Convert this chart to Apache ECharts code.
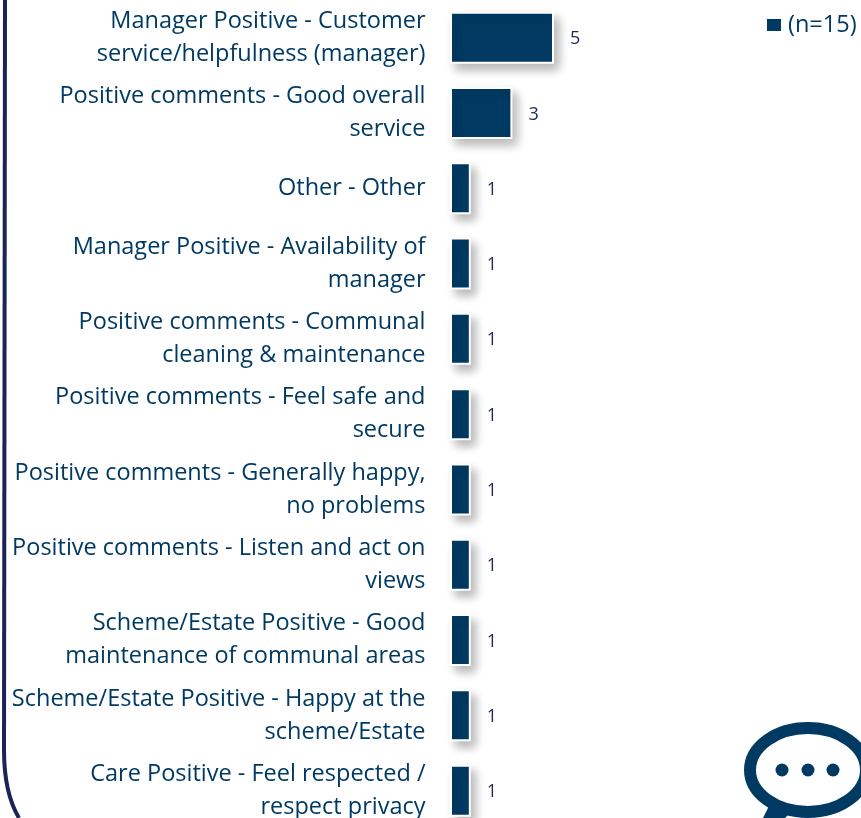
<!DOCTYPE html>
<html>
<head>
<meta charset="utf-8">
<style>
  html, body { margin: 0; padding: 0; background: #fff; height: 818px; overflow: hidden; }
  #chart { width: 861px; height: 840px; }
</style>
</head>
<body>
<div id="chart"></div>
<script src="https://cdn.jsdelivr.net/npm/echarts@6/dist/echarts.min.js"></script>
<script>
const categories = [
  'Manager Positive - Customer\nservice/helpfulness (manager)',
  'Positive comments - Good overall\nservice',
  'Other - Other',
  'Manager Positive - Availability of\nmanager',
  'Positive comments - Communal\ncleaning & maintenance',
  'Positive comments - Feel safe and\nsecure',
  'Positive comments - Generally happy,\nno problems',
  'Positive comments - Listen and act on\nviews',
  'Scheme/Estate Positive - Good\nmaintenance of communal areas',
  'Scheme/Estate Positive - Happy at the\nscheme/Estate',
  'Care Positive - Feel respected /\nrespect privacy'
]
const values = [5, 3, 1, 1, 1, 1, 1, 1, 1, 1, 1]
const seriesName = '(n=15)'

const navy = '#003a63'
const font = '"Open Sans", sans-serif'

const chart = echarts.init(document.getElementById('chart'))
chart.setOption({
  animation: false,
  textStyle: { fontFamily: font },
  legend: {
    data: [{ name: seriesName, icon: 'rect' }],
    left: 762,
    top: 8,
    itemWidth: 14,
    itemHeight: 12,
    itemGap: 0,
    selectedMode: false,
    itemStyle: { borderWidth: 0, shadowBlur: 0, shadowOffsetX: 0, shadowOffsetY: 0 },
    textStyle: { color: navy, fontSize: 23.5, fontFamily: font, padding: [0, 0, 0, 2] }
  },
  grid: { left: 450, top: -1.2, width: 312, height: 829.5 },
  xAxis: { type: 'value', min: 0, max: 15, show: false },
  yAxis: {
    type: 'category',
    inverse: true,
    data: categories,
    axisLine: { show: false },
    axisTick: { show: false },
    axisLabel: {
      margin: 24.5,
      padding: [2, 0, 0, 0],
      color: navy,
      fontSize: 23.5,
      lineHeight: 33,
      fontFamily: font,
      align: 'right',
      interval: 0
    }
  },
  series: [
    {
      name: seriesName,
      type: 'bar',
      data: values,
      barWidth: 52,
      itemStyle: {
        color: navy,
        borderColor: '#fff',
        borderWidth: 2,
        shadowColor: 'rgba(0, 0, 0, 0.28)',
        shadowBlur: 10,
        shadowOffsetX: 5,
        shadowOffsetY: 6
      },
      label: {
        show: true,
        position: 'right',
        distance: 16,
        offset: [0, 1.5],
        color: '#1f2a5c',
        fontSize: 18,
        fontFamily: font
      }
    }
  ],
  graphic: [
    // panel border, bottom left corner
    {
      type: 'line',
      shape: { x1: 5, y1: 0, x2: 4, y2: 750 },
      style: { stroke: '#1b2455', lineWidth: 4 }
    },
    {
      type: 'bezierCurve',
      shape: { x1: 4, y1: 750, cpx1: 4, cpy1: 780, cpx2: 10, cpy2: 803, x2: 19, y2: 818 },
      style: { fill: null, stroke: '#1b2455', lineWidth: 4 }
    },
    // speech bubble
    {
      type: 'ellipse',
      shape: { cx: 808, cy: 770, rx: 58, ry: 42 },
      style: { fill: '#fff', stroke: navy, lineWidth: 12 }
    },
    {
      type: 'polygon',
      shape: { points: [[763, 818], [770, 804], [788, 815], [785, 818]] },
      style: { fill: navy }
    },
    { type: 'circle', shape: { cx: 782, cy: 770, r: 6.5 }, style: { fill: navy } },
    { type: 'circle', shape: { cx: 808, cy: 770, r: 6.5 }, style: { fill: navy } },
    { type: 'circle', shape: { cx: 833, cy: 770, r: 6.5 }, style: { fill: navy } }
  ]
})
</script>
</body>
</html>
